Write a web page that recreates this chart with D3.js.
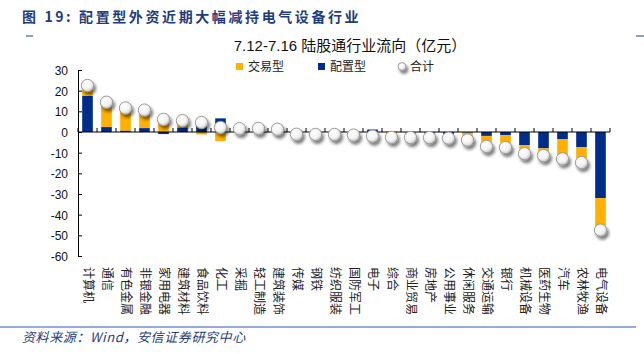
<!DOCTYPE html>
<html>
<head>
<meta charset="utf-8">
<script src="https://cdn.jsdelivr.net/npm/d3@7"></script>
<style>
  body { margin: 0; background: #fff; }
  svg { display: block; }
</style>
</head>
<body>
<div id="chart"></div>
<script>
// industry names (x axis)
var industries = ["计算机", "通信", "有色金属", "非银金融", "家用电器", "建筑材料", "食品饮料", "化工",
    "采掘", "轻工制造", "建筑装饰", "传媒", "钢铁", "纺织服装", "国防军工", "电子", "综合",
    "商业贸易", "房地产", "公用事业", "休闲服务", "交通运输", "银行", "机械设备", "医药生物",
    "汽车", "农林牧渔", "电气设备"];
// 配置型 flows
var configFlow = [17.5, 2.4, 0.7, 1.9, -1.0, 2.2, 5.8, 6.6, 0.3, 0.2, 0.6, -0.2, -0.4, -0.3,
    0.2, 1.2, 0.1, -0.3, -0.4, -1.0, -0.3, -1.9, -1.5, -6.3, -7.9, -3.4, -7.4, -32.0];
// 交易型 flows
var tradeFlow = [5.0, 12.0, 10.9, 8.7, 7.1, 3.3, -1.2, -4.4, 1.3, 1.5, 0.7, -0.9, -0.8, -0.9,
    -1.7, -3.2, -2.7, -2.4, -2.3, -2.0, -3.6, -5.1, -6.0, -4.2, -3.5, -9.6, -7.4, -15.5];
// 合计
var totalFlow = [22.5, 14.4, 11.6, 10.6, 6.1, 5.5, 4.6, 2.2, 1.6, 1.7, 1.3, -1.1, -1.2, -1.2,
    -1.5, -2.0, -2.6, -2.7, -2.7, -3.0, -3.9, -7.0, -7.5, -10.5, -11.4, -13.0, -14.8, -47.5];
var yTicks = [30, 20, 10, 0, -10, -20, -30, -40, -50, -60];

var W = 644, H = 354;
var blue = "#002d8a", orange = "#ffb000", titleBlue = "#1f3d7a";

var svg = d3.select("#chart").append("svg")
    .attr("width", W)
    .attr("height", H);

var defs = svg.append("defs");
var grad = defs.append("radialGradient").attr("id", "dotGrad")
    .attr("cx", "40%").attr("cy", "35%").attr("r", "70%");
grad.append("stop").attr("offset", "0%").attr("stop-color", "#ffffff");
grad.append("stop").attr("offset", "60%").attr("stop-color", "#f2f2f2");
grad.append("stop").attr("offset", "100%").attr("stop-color", "#bdbdbd");
defs.append("filter").attr("id", "shadow")
    .attr("x", "-60%").attr("y", "-60%").attr("width", "250%").attr("height", "250%")
    .append("feDropShadow")
    .attr("dx", 2).attr("dy", 3).attr("stdDeviation", 1.8)
    .attr("flood-color", "#000").attr("flood-opacity", 0.5);

// header
svg.append("text")
    .attr("x", 22).attr("y", 22)
    .attr("fill", titleBlue)
    .style("font-family", "'Noto Sans CJK SC', sans-serif")
    .style("font-size", "14px").style("font-weight", "bold")
    .style("letter-spacing", "2.6px")
    .text("图 19:  配置型外资近期大幅减持电气设备行业");
svg.append("line").attr("x1", 26).attr("x2", 33).attr("y1", 36).attr("y2", 36)
    .attr("stroke", titleBlue).attr("stroke-width", 1);
svg.append("line").attr("x1", 636).attr("x2", 644).attr("y1", 36).attr("y2", 36)
    .attr("stroke", titleBlue).attr("stroke-width", 1);

svg.append("text")
    .attr("x", 350).attr("y", 51)
    .attr("text-anchor", "middle")
    .attr("fill", "#111")
    .style("font-family", "'Liberation Sans', 'Noto Sans CJK SC', sans-serif")
    .style("font-size", "15px")
    .text("7.12-7.16 陆股通行业流向（亿元）");

// scales
var x = d3.scaleBand().domain(industries).range([78, 610]).paddingInner(0.44).paddingOuter(0.22);
var y = d3.scaleLinear().domain([-60, 30]).range([256, 70]);

// stacked bars: 配置型 first, then 交易型
var rows = industries.map(function (d, i) { return { name: d, config: configFlow[i], trade: tradeFlow[i] }; });
var stack = d3.stack().keys(["config", "trade"]).offset(d3.stackOffsetDiverging);
var series = stack(rows);
var colors = { config: blue, trade: orange };

svg.append("g").selectAll("g")
    .data(series)
    .join("g")
    .attr("fill", function (s) { return colors[s.key]; })
    .selectAll("rect")
    .data(function (s) { return s; })
    .join("rect")
    .attr("x", function (d) { return x(d.data.name); })
    .attr("width", x.bandwidth())
    .attr("y", function (d) { return y(Math.max(d[0], d[1])); })
    .attr("height", function (d) { return Math.abs(y(d[0]) - y(d[1])); });

// y axis
var yAxis = svg.append("g")
    .attr("transform", "translate(78,0)")
    .call(d3.axisRight(y).tickValues(yTicks).tickSize(4).tickFormat(""));
yAxis.select(".domain").attr("stroke", "#000");
yAxis.selectAll(".tick line").attr("stroke", "#000");
svg.append("g").selectAll("text")
    .data(yTicks)
    .join("text")
    .attr("x", 68).attr("y", function (d) { return y(d) + 5; })
    .attr("text-anchor", "end")
    .style("font-family", "'Liberation Sans', Arial, sans-serif")
    .style("font-size", "12px")
    .attr("fill", "#111")
    .text(function (d) { return d; });

// x axis line at zero with ticks between categories
var step = x.step();
var xAxis = svg.append("g");
xAxis.append("line")
    .attr("x1", 78).attr("x2", 610)
    .attr("y1", y(0)).attr("y2", y(0))
    .attr("stroke", "#000").attr("stroke-width", 1.2);
xAxis.selectAll(".xt")
    .data(d3.range(industries.length + 1))
    .join("line")
    .attr("class", "xt")
    .attr("x1", function (i) { return 78 + i * step; })
    .attr("x2", function (i) { return 78 + i * step; })
    .attr("y1", y(0)).attr("y2", y(0) - 4)
    .attr("stroke", "#000");

// total markers
svg.append("g").selectAll("circle")
    .data(totalFlow)
    .join("circle")
    .attr("cx", function (d, i) { return x(industries[i]) + x.bandwidth() / 2; })
    .attr("cy", function (d) { return y(d); })
    .attr("r", 6.2)
    .attr("fill", "url(#dotGrad)")
    .attr("stroke", "#9a9a9a")
    .attr("stroke-width", 1)
    .attr("filter", "url(#shadow)");

// category labels, rotated to read top-down
svg.append("g").selectAll("text")
    .data(industries)
    .join("text")
    .attr("transform", function (d) {
        return "translate(" + (x(d) + x.bandwidth() / 2 - 4) + ",267) rotate(90)";
    })
    .attr("text-anchor", "start")
    .style("font-family", "'Noto Sans CJK SC', sans-serif")
    .style("font-size", "12px")
    .attr("fill", "#222")
    .text(function (d) { return d; });

// legend
var legendItems = [
    { label: "交易型", kind: "rect", color: orange, x: 236 },
    { label: "配置型", kind: "rect", color: blue, x: 318 },
    { label: "合计", kind: "dot", color: null, x: 398 }
];
var legend = svg.append("g");
legendItems.forEach(function (it) {
    if (it.kind === "rect") {
        legend.append("rect").attr("x", it.x).attr("y", 63).attr("width", 7).attr("height", 7).attr("fill", it.color);
    } else {
        legend.append("circle").attr("cx", it.x + 4).attr("cy", 66.5).attr("r", 4)
            .attr("fill", "url(#dotGrad)").attr("stroke", "#9a9a9a").attr("filter", "url(#shadow)");
    }
    legend.append("text")
        .attr("x", it.x + 12).attr("y", 71)
        .style("font-family", "'Noto Sans CJK SC', sans-serif")
        .style("font-size", "12px")
        .attr("fill", "#222")
        .text(it.label);
});

// footer
svg.append("line").attr("x1", 0).attr("x2", 636).attr("y1", 327).attr("y2", 327)
    .attr("stroke", "#2a5bb0").attr("stroke-width", 1.2);
svg.append("text")
    .attr("x", 22).attr("y", 342)
    .attr("fill", titleBlue)
    .style("font-family", "'Noto Sans CJK SC', sans-serif")
    .style("font-size", "13px").style("font-style", "italic")
    .style("letter-spacing", "0.6px")
    .text("资料来源：Wind，安信证券研究中心");
</script>
</body>
</html>
